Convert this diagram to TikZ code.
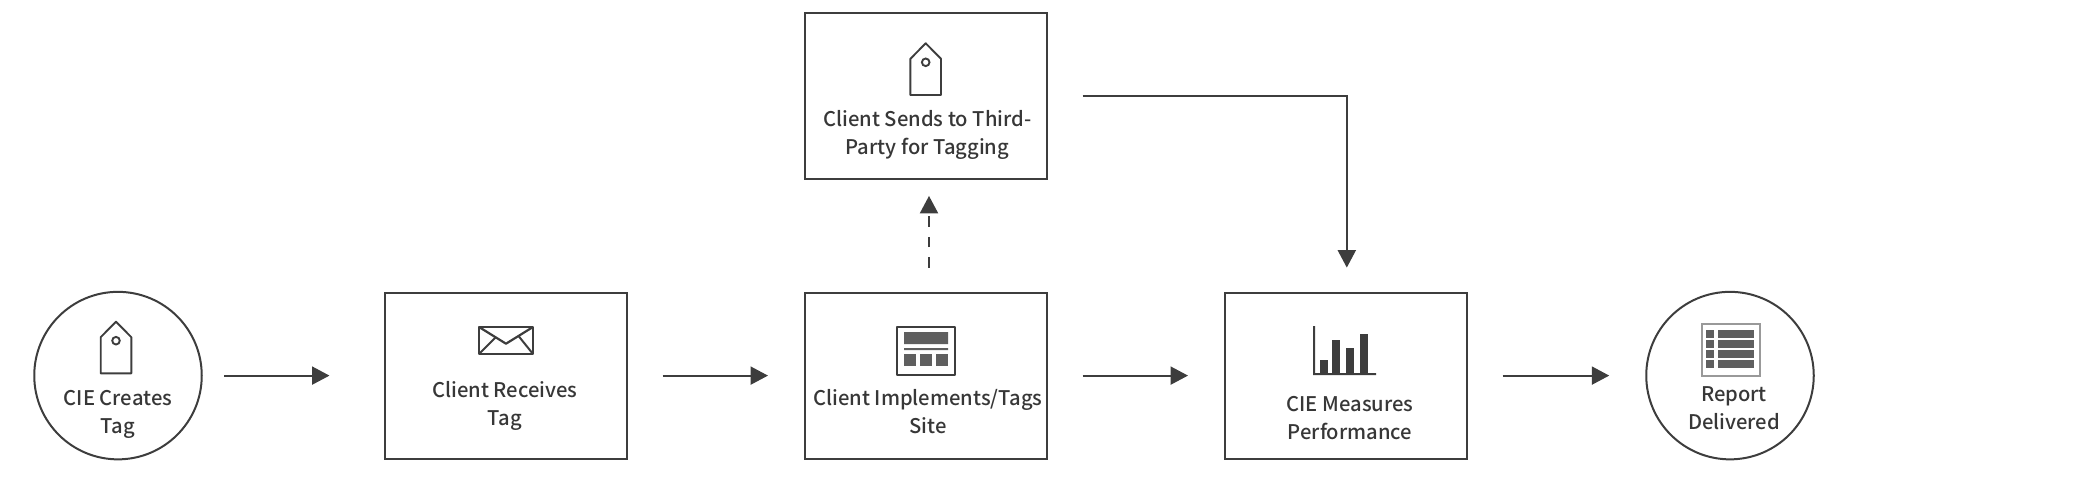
\documentclass[tikz,border=0pt]{standalone}
\usepackage{fontspec}
\setmainfont{Noto Sans CJK SC Medium}
\usetikzlibrary{arrows.meta}
\definecolor{ink}{HTML}{3D3D3D}
\definecolor{iconfill}{HTML}{5F5F5F}
\definecolor{iconrim}{HTML}{999999}
\tikzset{
    stepbox/.style = {
        draw=ink,
        line width=2pt,
        minimum width=242pt,
        minimum height=166pt,
    },
    endcircle/.style = {
        draw=ink,
        line width=2pt,
        circle,
        minimum size=167.5pt,
    },
    caption/.style = {
        text=ink!90!black,
        font=\fontsize{20.2}{28}\selectfont,
        align=center,
        anchor=center,
        inner sep=0pt,
    },
    flow/.style = {
        draw=ink,
        line width=2.2pt,
        -{Triangle[length=17.5pt,width=18pt]},
        shorten <=34.5pt,
        shorten >=36pt,
    },
    tagicon/.pic = {
        \draw[ink,line width=1.9pt,line join=round] (-15.3,15.5) -- (0,0) -- (15.3,15.5)
            -- (15.3,51.7) -- (-15.3,51.7) -- cycle;
        \draw[ink,line width=1.9pt] (0,19) circle (3.8);
    },
}

\begin{document}
\begin{tikzpicture}[x=1pt,y=-1pt]
    \useasboundingbox (0,0) rectangle (2088,484);

    % Draw all steps
    \node[endcircle] (creates) at (118,375.6) {};
    \node[stepbox] (receives) at (506,375.6) {};
    \node[stepbox] (implements) at (926,375.6) {};
    \node[stepbox] (sends) at (926,95.9) {};
    \node[stepbox] (measures) at (1346,375.6) {};
    \node[endcircle] (delivered) at (1730,375.6) {};

    % Draw captions
    \node[caption] (createstext) at (118,414.5) {CIE Creates\\Tag};
    \node[caption] (receivestext) at (505,406) {Client Receives\\Tag};
    \node[caption] (implementstext) at (928,412) {Client Implements/Tags\\Site};
    \node[caption] (sendstext) at (927.5,135) {Client Sends to Third-\\Party for Tagging};
    \node[caption] (measurestext) at (1350,418) {CIE Measures\\Performance};
    \node[caption] (deliveredtext) at (1734,408) {Report\\Delivered};

    % Draw arrows
    \draw[flow,shorten <=21.5pt,shorten >=54.5pt] (creates) -- (receives);
    \draw[flow] (receives) -- (implements);
    \draw[flow] (implements) -- (measures);
    \draw[flow] (measures) -- (delivered);
    \draw[flow,shorten >=24pt] (sends) -| ([xshift=0.8pt]measures.north);
    \draw[flow,dash pattern=on 10.5pt off 10pt,shorten <=24pt,shorten >=16pt]
        ([xshift=3pt]implements.north) -- ([xshift=3pt]sends.south);

    % Draw icons
    \pic at (116,321.7) {tagicon};
    \pic at (925.7,43.3) {tagicon};

    % envelope
    \draw[ink,line width=2.2pt,line join=round] (479,327) rectangle (533,354);
    \draw[ink,line width=2.2pt,line join=round] (479,327) -- (506,343.7) -- (533,327);
    \draw[ink,line width=2pt] (479,354) -- (495.3,337.7) (533,354) -- (518.3,335.7);

    % page
    \draw[ink,line width=2.3pt,line join=round] (896.7,326.7) rectangle (955.3,375.3);
    \fill[iconfill] (904,332) rectangle (948,344) (904,348) rectangle (948,350);
    \foreach \xpos in {904,920,936}
        \fill[iconfill] (\xpos,354) rectangle ++(12,12);

    % chart
    \fill[ink] (1313,326) rectangle (1315,375) (1313,373) rectangle (1376,375);
    \fill[ink] (1320,360) rectangle (1328,374);
    \fill[ink] (1332,340) rectangle (1340,374);
    \fill[ink] (1346,348) rectangle (1354,374);
    \fill[ink] (1360,334) rectangle (1368,374);

    % table
    \draw[iconrim,line width=2.7pt] (1702,324) rectangle (1760,376);
    \foreach \ypos in {330,340,350,360} {
        \fill[iconfill] (1706,\ypos) rectangle ++(8,8);
        \fill[iconfill] (1718,\ypos) rectangle ++(36,8);
    }
\end{tikzpicture}
\end{document}
